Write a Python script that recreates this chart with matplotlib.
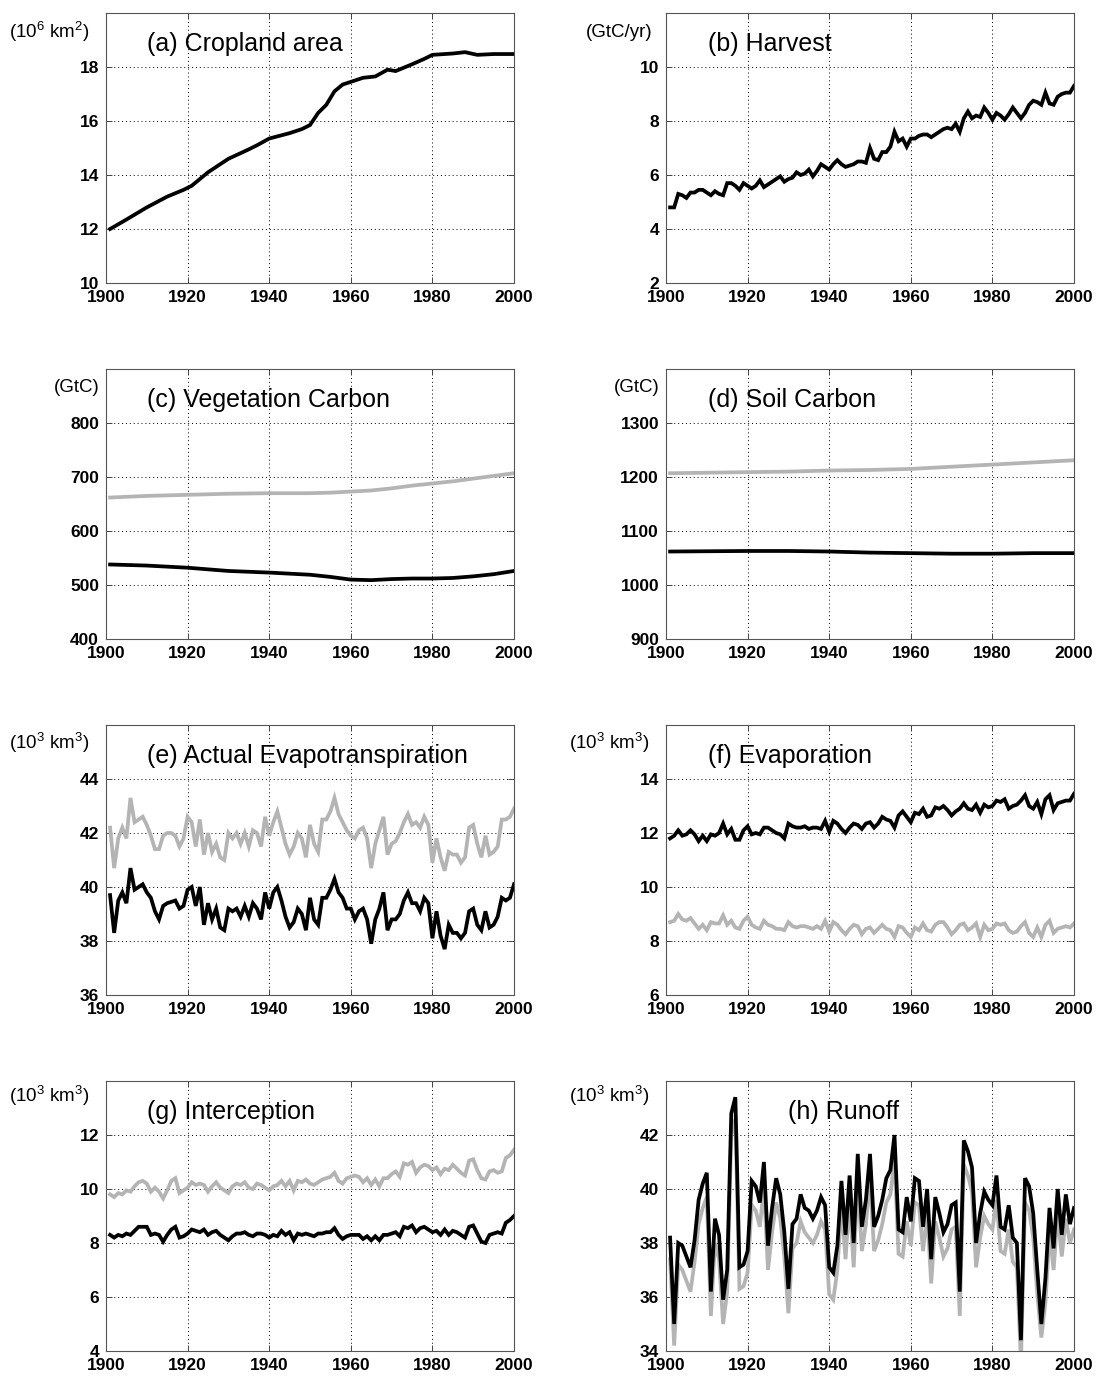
import numpy as np
import matplotlib
matplotlib.use("Agg")
import matplotlib.pyplot as plt

plt.rcParams['font.family'] = ['Liberation Sans', 'DejaVu Sans']
plt.rcParams['mathtext.default'] = 'regular'

# ---- data ----
yrs = list(range(1901, 2001))

# (a) cropland area, 10^6 km2 (smooth, sampled)
crop_yr = [1901, 1905, 1910, 1915, 1919, 1921, 1925, 1930, 1935, 1937, 1940, 1945, 1948,
           1950, 1952, 1954, 1956, 1958, 1960, 1963, 1966, 1969, 1971, 1975, 1978, 1980,
           1985, 1988, 1991, 1995, 2000]
crop = [12.0, 12.35, 12.8, 13.2, 13.45, 13.6, 14.1, 14.6, 14.95, 15.1, 15.35, 15.55, 15.7,
        15.85, 16.3, 16.6, 17.1, 17.35, 17.45, 17.6, 17.65, 17.9, 17.85, 18.1, 18.3, 18.45,
        18.5, 18.55, 18.45, 18.48, 18.48]

# (b) harvest, GtC/yr
harvest = [4.8, 4.8, 5.3, 5.25, 5.15, 5.35, 5.35, 5.45, 5.45, 5.35,
           5.25, 5.4, 5.3, 5.25, 5.7, 5.7, 5.6, 5.45, 5.7, 5.6,
           5.5, 5.6, 5.8, 5.55, 5.65, 5.75, 5.85, 5.95, 5.75, 5.85,
           5.9, 6.1, 6.0, 6.05, 6.2, 5.95, 6.15, 6.4, 6.3, 6.2,
           6.4, 6.55, 6.4, 6.3, 6.35, 6.4, 6.5, 6.5, 6.45, 7.0,
           6.6, 6.55, 6.85, 6.85, 7.05, 7.6, 7.25, 7.35, 7.05, 7.35,
           7.35, 7.45, 7.5, 7.5, 7.4, 7.5, 7.6, 7.7, 7.75, 7.7,
           7.9, 7.6, 8.1, 8.35, 8.1, 8.2, 8.15, 8.5, 8.3, 8.05,
           8.3, 8.2, 8.05, 8.25, 8.5, 8.3, 8.1, 8.3, 8.6, 8.75,
           8.7, 8.6, 9.05, 8.65, 8.6, 8.9, 9.0, 9.05, 9.05, 9.3]

# (c) vegetation carbon, GtC
veg_yr = [1901, 1910, 1920, 1930, 1940, 1950, 1955, 1960, 1965, 1970, 1975, 1980, 1985, 1990, 1995, 2000]
veg_gray = [662, 665, 667, 669, 670, 670, 671, 673, 675, 679, 684, 688, 692, 697, 702, 707]
veg_black = [538, 536, 532, 526, 523, 519, 515, 510, 509, 511, 512, 512, 513, 516, 520, 526]

# (d) soil carbon, GtC
soil_yr = [1901, 1920, 1930, 1940, 1950, 1960, 1970, 1980, 1990, 2000]
soil_gray = [1207, 1209, 1210, 1212, 1213, 1215, 1219, 1223, 1227, 1231]
soil_black = [1062, 1063, 1063, 1062, 1060, 1059, 1058, 1058, 1059, 1059]

# (e) actual evapotranspiration, 10^3 km3
aet_black = [39.7, 38.3, 39.5, 39.8, 39.4, 40.7, 39.9, 40.0, 40.1, 39.8,
             39.6, 39.1, 38.8, 39.3, 39.4, 39.45, 39.5, 39.2, 39.3, 39.9,
             40.0, 39.3, 40.0, 38.6, 39.4, 38.8, 39.2, 38.5, 38.4, 39.2,
             39.1, 39.2, 38.9, 39.3, 38.9, 39.4, 39.2, 38.8, 39.8, 39.2,
             39.8, 40.0, 39.5, 38.9, 38.5, 38.7, 39.2, 39.0, 38.4, 39.6,
             38.8, 38.6, 39.6, 39.6, 39.9, 40.3, 39.8, 39.6, 39.2, 39.2,
             38.8, 39.1, 39.2, 38.8, 37.9, 38.8, 39.2, 39.8, 38.4, 38.8,
             38.8, 39.0, 39.5, 39.8, 39.4, 39.4, 39.1, 39.6, 39.4, 38.1,
             39.1, 38.2, 37.7, 38.6, 38.3, 38.3, 38.1, 38.3, 39.1, 39.2,
             38.6, 38.4, 39.1, 38.5, 38.6, 38.9, 39.6, 39.5, 39.6, 40.1]
aet_gray = [42.2, 40.7, 41.8, 42.2, 41.8, 43.3, 42.4, 42.5, 42.6, 42.3,
            41.9, 41.4, 41.4, 41.9, 42.0, 42.0, 41.9, 41.5, 41.8, 42.6,
            42.4, 41.5, 42.5, 41.2, 42.0, 41.3, 41.6, 41.1, 41.0, 42.0,
            41.8, 42.0, 41.6, 42.0, 41.5, 42.1, 42.0, 41.5, 42.6, 41.9,
            42.4, 42.8, 42.2, 41.6, 41.2, 41.5, 42.0, 41.8, 41.1, 42.3,
            41.6, 41.3, 42.5, 42.5, 42.8, 43.3, 42.7, 42.4, 42.1, 41.9,
            41.8, 42.1, 42.2, 41.8, 40.7, 41.6, 42.1, 42.6, 41.2, 41.6,
            41.7, 42.0, 42.4, 42.7, 42.3, 42.4, 42.2, 42.6, 42.3, 40.9,
            41.8, 41.1, 40.6, 41.3, 41.2, 41.2, 40.9, 41.1, 42.2, 42.3,
            41.6, 41.1, 41.9, 41.2, 41.3, 41.5, 42.5, 42.5, 42.6, 42.9]

# (f) evaporation, 10^3 km3
evap_black = [11.8, 11.9, 12.1, 11.9, 11.95, 12.1, 11.95, 11.7, 11.9, 11.7,
              11.95, 11.9, 12.0, 12.35, 11.95, 12.15, 11.75, 11.75, 12.1, 12.25,
              11.95, 12.0, 11.95, 12.2, 12.2, 12.1, 12.0, 11.95, 11.8, 12.35,
              12.25, 12.2, 12.2, 12.25, 12.15, 12.2, 12.2, 12.15, 12.45, 12.05,
              12.45, 12.35, 12.15, 12.0, 12.2, 12.35, 12.3, 12.15, 12.35, 12.4,
              12.2, 12.35, 12.6, 12.5, 12.45, 12.2, 12.65, 12.8, 12.6, 12.4,
              12.75, 12.7, 12.9, 12.6, 12.65, 12.95, 12.9, 13.0, 12.85, 12.65,
              12.8, 12.9, 13.1, 12.9, 12.85, 13.05, 12.75, 13.05, 12.95, 13.0,
              13.2, 13.15, 13.25, 12.9, 13.0, 13.05, 13.2, 13.4, 13.0, 12.9,
              13.15, 12.7, 13.25, 13.4, 12.85, 13.1, 13.15, 13.2, 13.2, 13.45]
evap_gray = [8.7, 8.75, 9.0, 8.8, 8.75, 8.85, 8.65, 8.45, 8.6, 8.4,
             8.7, 8.65, 8.65, 8.95, 8.6, 8.75, 8.5, 8.45, 8.75, 8.9,
             8.6, 8.5, 8.45, 8.75, 8.6, 8.55, 8.45, 8.45, 8.4, 8.7,
             8.55, 8.5, 8.55, 8.55, 8.5, 8.45, 8.55, 8.45, 8.75, 8.35,
             8.7, 8.6, 8.4, 8.25, 8.45, 8.6, 8.55, 8.25, 8.45, 8.5,
             8.3, 8.45, 8.6, 8.45, 8.4, 8.15, 8.55, 8.5, 8.3, 8.15,
             8.5, 8.4, 8.65, 8.4, 8.35, 8.6, 8.7, 8.7, 8.5, 8.25,
             8.4, 8.6, 8.65, 8.4, 8.5, 8.65, 8.15, 8.6, 8.4, 8.45,
             8.65, 8.6, 8.65, 8.4, 8.3, 8.35, 8.55, 8.7, 8.3, 8.15,
             8.5, 8.15, 8.6, 8.75, 8.3, 8.45, 8.5, 8.55, 8.5, 8.65]

# (g) interception, 10^3 km3
icpt_black = [8.3, 8.2, 8.3, 8.25, 8.35, 8.3, 8.45, 8.6, 8.6, 8.6,
              8.3, 8.35, 8.3, 8.05, 8.3, 8.5, 8.6, 8.2, 8.25, 8.35,
              8.5, 8.45, 8.4, 8.5, 8.3, 8.4, 8.45, 8.3, 8.2, 8.1,
              8.25, 8.35, 8.35, 8.4, 8.3, 8.25, 8.35, 8.35, 8.3, 8.2,
              8.3, 8.25, 8.45, 8.3, 8.4, 8.1, 8.35, 8.3, 8.35, 8.3,
              8.25, 8.35, 8.35, 8.4, 8.4, 8.55, 8.3, 8.15, 8.25, 8.3,
              8.3, 8.3, 8.15, 8.25, 8.1, 8.25, 8.1, 8.3, 8.3, 8.35,
              8.4, 8.25, 8.6, 8.55, 8.65, 8.4, 8.55, 8.6, 8.5, 8.4,
              8.45, 8.3, 8.5, 8.3, 8.45, 8.4, 8.3, 8.2, 8.6, 8.65,
              8.35, 8.05, 8.0, 8.3, 8.35, 8.4, 8.35, 8.75, 8.85, 9.0]
icpt_gray = [9.8, 9.7, 9.85, 9.8, 9.95, 9.9, 10.1, 10.25, 10.3, 10.2,
             9.9, 10.05, 9.9, 9.65, 9.95, 10.3, 10.4, 9.85, 9.95, 10.05,
             10.25, 10.15, 10.2, 10.15, 9.9, 10.1, 10.25, 10.05, 9.95, 9.85,
             10.1, 10.2, 10.15, 10.25, 10.05, 10.0, 10.2, 10.15, 10.05, 9.95,
             10.1, 10.15, 10.3, 10.1, 10.3, 9.95, 10.3, 10.25, 10.35, 10.2,
             10.15, 10.25, 10.35, 10.4, 10.45, 10.6, 10.3, 10.2, 10.4, 10.45,
             10.5, 10.45, 10.25, 10.4, 10.15, 10.35, 10.1, 10.4, 10.4, 10.55,
             10.65, 10.45, 10.95, 10.9, 11.0, 10.6, 10.8, 10.9, 10.85, 10.7,
             10.8, 10.55, 10.75, 10.7, 10.9, 10.75, 10.6, 10.5, 11.05, 11.1,
             10.7, 10.4, 10.35, 10.65, 10.7, 10.6, 10.65, 11.15, 11.25, 11.45]

# (h) runoff, 10^3 km3
roff_black = [38.2, 35.0, 38.0, 37.9, 37.5, 37.1, 38.1, 39.6, 40.2, 40.6,
              36.2, 38.9, 38.3, 35.9, 37.0, 42.8, 43.4, 37.1, 37.2, 37.7,
              40.3, 40.1, 39.5, 41.0, 37.9, 39.3, 40.4, 39.8, 38.4, 36.3,
              38.7, 38.9, 39.8, 39.3, 39.2, 38.9, 39.2, 39.7, 39.4, 37.1,
              36.9, 37.9, 40.3, 38.3, 40.5, 38.0, 41.3, 38.6, 39.6, 41.3,
              38.6, 39.0, 39.6, 40.4, 40.7, 42.0, 38.5, 38.4, 39.7, 38.8,
              40.4, 40.3, 38.6, 40.0, 37.4, 39.7, 39.1, 38.4, 38.7, 39.4,
              39.5, 36.2, 41.8, 41.4, 40.8, 38.0, 39.1, 39.9, 39.6, 39.4,
              40.5, 38.6, 38.5, 39.4, 38.2, 38.0, 34.4, 40.4, 40.1, 39.1,
              37.0, 35.0, 36.7, 39.3, 37.8, 40.0, 38.3, 39.8, 38.7, 39.3]
roff_gray = [37.4, 34.2, 37.2, 37.0, 36.6, 36.2, 37.3, 38.7, 39.3, 39.7,
             35.3, 38.0, 37.4, 35.0, 36.2, 42.0, 42.6, 36.3, 36.4, 36.9,
             39.4, 39.2, 38.6, 40.1, 37.0, 38.4, 39.5, 38.9, 37.5, 35.4,
             37.8, 38.0, 38.8, 38.4, 38.2, 38.0, 38.3, 38.8, 38.5, 36.1,
             35.9, 37.0, 39.4, 37.4, 39.6, 37.1, 40.4, 37.7, 38.7, 40.4,
             37.7, 38.1, 38.7, 39.5, 39.8, 41.1, 37.6, 37.5, 38.8, 37.9,
             39.5, 39.4, 37.7, 39.1, 36.5, 38.8, 38.2, 37.5, 37.8, 38.5,
             38.6, 35.3, 40.9, 40.5, 39.9, 37.1, 38.2, 39.0, 38.7, 38.5,
             39.6, 37.7, 37.6, 38.5, 37.3, 37.1, 33.6, 39.5, 39.2, 38.2,
             36.1, 34.5, 35.8, 38.4, 37.0, 39.1, 37.5, 38.9, 38.0, 38.5]

xticks = [1900, 1920, 1940, 1960, 1980, 2000]

GRAY = '#b4b4b4'
LW = 2.7

fig = plt.figure(figsize=(10.96, 13.79), dpi=100)

lefts = [106 / 1096, 666 / 1096]
bottoms = [1 - 283 / 1379, 1 - 639 / 1379, 1 - 995 / 1379, 1 - 1351 / 1379]
w = 408 / 1096
h = 270 / 1379

panels = [
    # title, unit, ylim, yticks, series list, title_x, unit_x, unit_y
    ('(a) Cropland area', '(10$^6$ km$^2$)', (10, 20), [10, 12, 14, 16, 18],
     [(crop_yr, crop, 'k')], 0.10, -0.04, 0.93),
    ('(b) Harvest', '(GtC/yr)', (2, 12), [2, 4, 6, 8, 10],
     [(yrs, harvest, 'k')], 0.103, -0.032, 0.926),
    ('(c) Vegetation Carbon', '(GtC)', (400, 900), [400, 500, 600, 700, 800],
     [(veg_yr, veg_gray, GRAY), (veg_yr, veg_black, 'k')], 0.10, -0.015, 0.93),
    ('(d) Soil Carbon', '(GtC)', (900, 1400), [900, 1000, 1100, 1200, 1300],
     [(soil_yr, soil_gray, GRAY), (soil_yr, soil_black, 'k')], 0.103, -0.015, 0.93),
    ('(e) Actual Evapotranspiration', '(10$^3$ km$^3$)', (36, 46), [36, 38, 40, 42, 44],
     [(yrs, aet_gray, GRAY), (yrs, aet_black, 'k')], 0.10, -0.04, 0.933),
    ('(f) Evaporation', '(10$^3$ km$^3$)', (6, 16), [6, 8, 10, 12, 14],
     [(yrs, evap_gray, GRAY), (yrs, evap_black, 'k')], 0.103, -0.04, 0.933),
    ('(g) Interception', '(10$^3$ km$^3$)', (4, 14), [4, 6, 8, 10, 12],
     [(yrs, icpt_gray, GRAY), (yrs, icpt_black, 'k')], 0.10, -0.042, 0.945),
    ('(h) Runoff', '(10$^3$ km$^3$)', (34, 44), [34, 36, 38, 40, 42],
     [(yrs, roff_gray, GRAY), (yrs, roff_black, 'k')], 0.30, -0.04, 0.944),
]

for i, (title, unit, ylim, yt, series, tx, ux, uy) in enumerate(panels):
    row, col = divmod(i, 2)
    ax = fig.add_axes([lefts[col], bottoms[row], w, h])
    for x, y, c in series:
        ax.plot(x, y, color=c, lw=LW, solid_joinstyle='miter')
    ax.set_xlim(1900, 2000)
    ax.set_ylim(*ylim)
    ax.set_xticks(xticks)
    ax.set_yticks(yt)
    ax.grid(True, color='k', linestyle=(0, (1, 3)), linewidth=0.7)
    ax.tick_params(direction='in', length=4, width=0.7, top=True, right=True,
                   labelsize=12.5, pad=5, colors='#444444', labelcolor='k')
    for lab in ax.get_xticklabels() + ax.get_yticklabels():
        lab.set_fontweight('bold')
    for s in ax.spines.values():
        s.set_color('#555555')
        s.set_linewidth(0.8)
    ax.text(tx, 0.885, title, transform=ax.transAxes, fontsize=18,
            ha='left', va='center')
    ax.text(ux, uy, unit, transform=ax.transAxes, fontsize=13.5,
            ha='right', va='center')

fig.savefig('out.png', dpi=100)
